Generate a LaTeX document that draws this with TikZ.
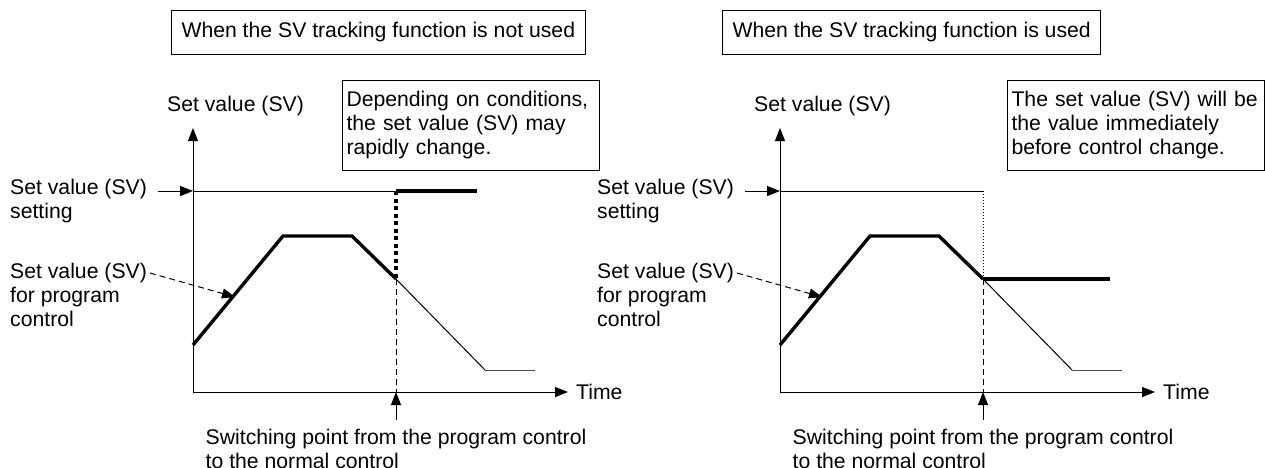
\documentclass[tikz,border=0pt]{standalone}
\usepackage{fontspec}
\setmainfont{Liberation Sans}
\usetikzlibrary{arrows.meta}

\tikzset{
  lbl/.style={inner sep=0pt, align=left, font=\fontsize{21.2}{24}\selectfont},
  titlebox/.style={draw, line width=1pt, inner xsep=10pt, inner ysep=12pt, font=\fontsize{21.2}{24}\selectfont},
  notebox/.style={draw, line width=1pt, inner xsep=4pt, inner ysep=11pt, text width=249pt, align=left, font=\fontsize{21.2}{24}\selectfont},
  tip/.style={-{Triangle[length=13pt,width=10pt]}},
  thin line/.style={line width=1pt},
  thick line/.style={line width=3.4pt},
}

\begin{document}
\begin{tikzpicture}[x=1pt, y=-1pt]
  \useasboundingbox (0,0) rectangle (1265,467);

  % left: SV tracking not used
  \node[titlebox, anchor=north west] (ttlA) at (171,10) {When the SV tracking function is not used};

  \coordinate (OA) at (193,392);
  \coordinate (ytopA) at (193,128);
  \coordinate (xendA) at (568,392);
  \coordinate (setA) at (193,191);
  \coordinate (swtopA) at (396,191);
  \coordinate (swA) at (396,279);
  \coordinate (swbotA) at (396,392);

  \draw[thin line, tip] (OA) -- (ytopA);
  \draw[thin line, tip] (OA) -- (xendA);
  \node[lbl, anchor=west] (timeA) at (576,392) {Time};
  \node[lbl, anchor=west] (yA) at (167,106) {Set value (SV)};

  \node[notebox, anchor=north west] (noteA) at (342,80) {Depending on conditions,\\the set value (SV) may\\rapidly change.};

  \node[lbl, anchor=north west] (setlblA) at (10,179) {Set value (SV)\\setting};
  \draw[thin line, tip] (158,191) -- (setA);
  \draw[thin line] (setA) -- (swtopA);
  \draw[thick line] (swtopA) -- (477,191);
  \draw[thick line, dash pattern=on 4pt off 3.5pt] (swtopA) -- (swA);

  \draw[thick line, line join=miter] (193,345) -- (283,236) -- (352,236) -- (swA);
  \draw[thin line] (swA) -- (485,370);
  \draw[thin line, gray!60!black] (485,370) -- (535,370);
  \draw[thin line, dash pattern=on 6pt off 4pt] (swA) -- (swbotA);

  \node[lbl, anchor=north west] (proglblA) at (10,263) {Set value (SV)\\for program\\control};
  \draw[thin line, dash pattern=on 6pt off 4pt, tip] (150,273) -- (235,297);

  \draw[thin line, tip] (396,420) -- (swbotA);
  \node[lbl, anchor=north, align=left] (swlblA) at (396,429) {Switching point from the program control\\to the normal control};

  % right: SV tracking used
  \node[titlebox, anchor=north west] (ttlB) at (722,10) {When the SV tracking function is used};

  \coordinate (OB) at (780,392);
  \coordinate (ytopB) at (780,128);
  \coordinate (xendB) at (1155,392);
  \coordinate (setB) at (780,191);
  \coordinate (swtopB) at (983,191);
  \coordinate (swB) at (983,279);
  \coordinate (swbotB) at (983,392);

  \draw[thin line, tip] (OB) -- (ytopB);
  \draw[thin line, tip] (OB) -- (xendB);
  \node[lbl, anchor=west] (timeB) at (1163,392) {Time};
  \node[lbl, anchor=west] (yB) at (754,106) {Set value (SV)};

  \node[notebox, anchor=north west] (noteB) at (1007,80) {The set value (SV) will be\\the value immediately\\before control change.};

  \node[lbl, anchor=north west] (setlblB) at (597,179) {Set value (SV)\\setting};
  \draw[thin line, tip] (745,191) -- (setB);
  \draw[thin line] (setB) -- (swtopB);
  \draw[thin line, dotted] (swtopB) -- (swB);

  \draw[thick line, line join=miter] (780,345) -- (870,236) -- (939,236) -- (swB);
  \draw[thick line] (swB) -- (1110,279);
  \draw[thin line] (swB) -- (1072,370);
  \draw[thin line, gray!60!black] (1072,370) -- (1122,370);
  \draw[thin line, dash pattern=on 6pt off 4pt] (swB) -- (swbotB);

  \node[lbl, anchor=north west] (proglblB) at (597,263) {Set value (SV)\\for program\\control};
  \draw[thin line, dash pattern=on 6pt off 4pt, tip] (737,273) -- (822,297);

  \draw[thin line, tip] (983,420) -- (swbotB);
  \node[lbl, anchor=north, align=left] (swlblB) at (983,429) {Switching point from the program control\\to the normal control};
\end{tikzpicture}
\end{document}
